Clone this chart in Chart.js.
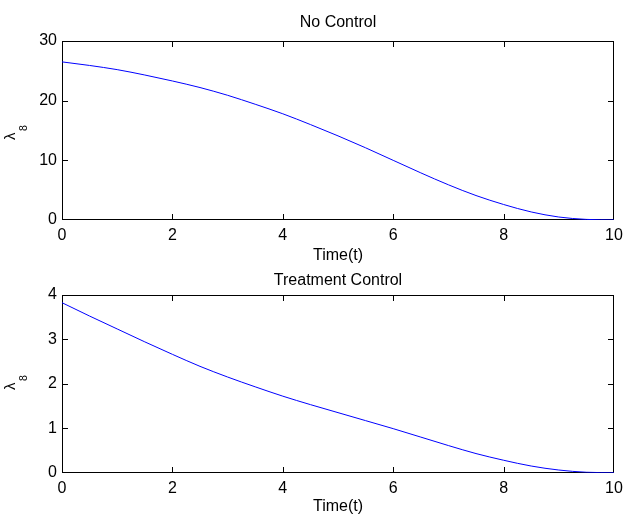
<!DOCTYPE html>
<html>
<head>
<meta charset="utf-8">
<script src="https://cdn.jsdelivr.net/npm/chart.js@4/dist/chart.umd.min.js"></script>
<style>
  html, body { margin: 0; padding: 0; background: #fff; overflow: hidden; width: 625px; height: 514px; }
  canvas { position: absolute; left: 0; }
  #topChart { top: 0; }
  #bottomChart { top: 266px; }
</style>
</head>
<body>
<canvas id="topChart" width="625" height="266"></canvas>
<canvas id="bottomChart" width="625" height="252"></canvas>
<script>
// time axis (same for both panels)
const timePoints = [0, 0.5, 1, 1.5, 2, 2.5, 3, 3.5, 4, 4.5, 5, 5.5, 6, 6.5, 7, 7.5, 8, 8.5, 9, 9.5, 10];

// lambda_8 without control
const noControl = [26.5, 25.9, 25.2, 24.3, 23.3, 22.2, 20.9, 19.4, 17.8, 16.0, 14.1, 12.1, 10.0, 7.9, 5.9, 4.1, 2.6, 1.35, 0.5, 0.1, 0];

// lambda_8 with treatment control
const treatmentControl = [3.82, 3.52, 3.23, 2.94, 2.66, 2.39, 2.15, 1.93, 1.72, 1.53, 1.35, 1.17, 0.99, 0.8, 0.61, 0.43, 0.28, 0.15, 0.06, 0.01, 0];

const xRange = [0, 10];
const xStep = 2;
const topYRange = [0, 30];
const topYStep = 10;
const bottomYRange = [0, 4];
const bottomYStep = 1;

const FAMILY = '"Liberation Sans", Arial, Helvetica, sans-serif';
const FONT = { family: FAMILY, size: 16 };

// matlab style box with ticks pointing inward
const frameTicks = {
  id: 'frameTicks',
  beforeDatasetsDraw(chart) {
    const { ctx, chartArea: a, scales } = chart;
    const L = Math.round(a.left) + 0.5, R = Math.round(a.right) - 0.5;
    const T = Math.round(a.top) + 0.5, B = Math.round(a.bottom) - 0.5;
    const len = 5.5;
    ctx.save();
    ctx.strokeStyle = '#000';
    ctx.lineWidth = 1;
    ctx.beginPath();
    scales.x.ticks.forEach(t => {
      if (t.value <= scales.x.min || t.value >= scales.x.max) return;
      const px = Math.round(scales.x.getPixelForValue(t.value)) + 0.5;
      ctx.moveTo(px, B); ctx.lineTo(px, B - len);
      ctx.moveTo(px, T); ctx.lineTo(px, T + len);
    });
    scales.y.ticks.forEach(t => {
      if (t.value <= scales.y.min || t.value >= scales.y.max) return;
      const py = Math.round(scales.y.getPixelForValue(t.value)) + 0.5;
      ctx.moveTo(L, py); ctx.lineTo(L + len, py);
      ctx.moveTo(R, py); ctx.lineTo(R - len, py);
    });
    ctx.stroke();
    ctx.strokeRect(L, T, R - L, B - T);
    ctx.restore();
  }
};

// y label lambda with subscript 8, rotated like matlab's ylabel
const lambdaLabel = {
  id: 'lambdaLabel',
  afterDraw(chart, args, opts) {
    const { ctx, chartArea: a } = chart;
    const mid = (a.top + a.bottom) / 2;
    ctx.save();
    ctx.translate(15, mid + opts.shift);
    ctx.rotate(-Math.PI / 2);
    ctx.fillStyle = '#000';
    ctx.textAlign = 'left';
    ctx.textBaseline = 'alphabetic';
    ctx.font = '15px ' + FAMILY;
    ctx.fillText('λ', 0, 0);
    ctx.font = '10.5px ' + FAMILY;
    ctx.fillText('8', 9, 12);
    ctx.restore();
  }
};

function makePanel(canvas, title, values, yRange, yStep, s) {
  return new Chart(canvas, {
    type: 'line',
    data: {
      datasets: [{
        data: timePoints.map((t, i) => ({ x: t, y: values[i] })),
        borderColor: '#0000ff',
        borderWidth: 1,
        pointRadius: 0,
        cubicInterpolationMode: 'monotone',
        fill: false
      }]
    },
    options: {
      responsive: false,
      animation: false,
      layout: { padding: { left: 0, right: 11, top: 0, bottom: 0 } },
      plugins: {
        legend: { display: false },
        tooltip: { enabled: false },
        title: {
          display: true,
          fullSize: false,
          text: title,
          color: '#000',
          font: { ...FONT, weight: 'normal' },
          padding: { top: s.titleTop, bottom: s.titleBottom }
        },
        lambdaLabel: { shift: s.labelShift }
      },
      scales: {
        x: {
          type: 'linear',
          min: xRange[0], max: xRange[1],
          grid: { display: false, drawTicks: false },
          border: { display: false },
          ticks: { stepSize: xStep, color: '#000', font: FONT, padding: 6.4, maxRotation: 0 },
          title: { display: true, text: 'Time(t)', color: '#000', font: FONT, padding: { top: 0, bottom: s.xTitleBottom } },
          afterFit(scale) {
            scale.height = s.xHeight;
            scale.paddingLeft = 0;
            scale.paddingRight = 0;
          }
        },
        y: {
          min: yRange[0], max: yRange[1],
          grid: { display: false, drawTicks: false },
          border: { display: false },
          ticks: { stepSize: yStep, color: '#000', font: FONT, padding: 5 },
          afterFit(scale) {
            scale.width = 62;
            scale.paddingTop = 0;
            scale.paddingBottom = 0;
          }
        }
      }
    },
    plugins: [frameTicks, lambdaLabel]
  });
}

makePanel(document.getElementById('topChart'), 'No Control', noControl, topYRange, topYStep,
  { titleTop: 12.6, titleBottom: 9.2, xHeight: 46, xTitleBottom: 0.9, labelShift: 9.5 });

makePanel(document.getElementById('bottomChart'), 'Treatment Control', treatmentControl, bottomYRange, bottomYStep,
  { titleTop: 4.9, titleBottom: 4.6, xHeight: 45.3, xTitleBottom: 1.9, labelShift: 6.3 });
</script>
</body>
</html>
